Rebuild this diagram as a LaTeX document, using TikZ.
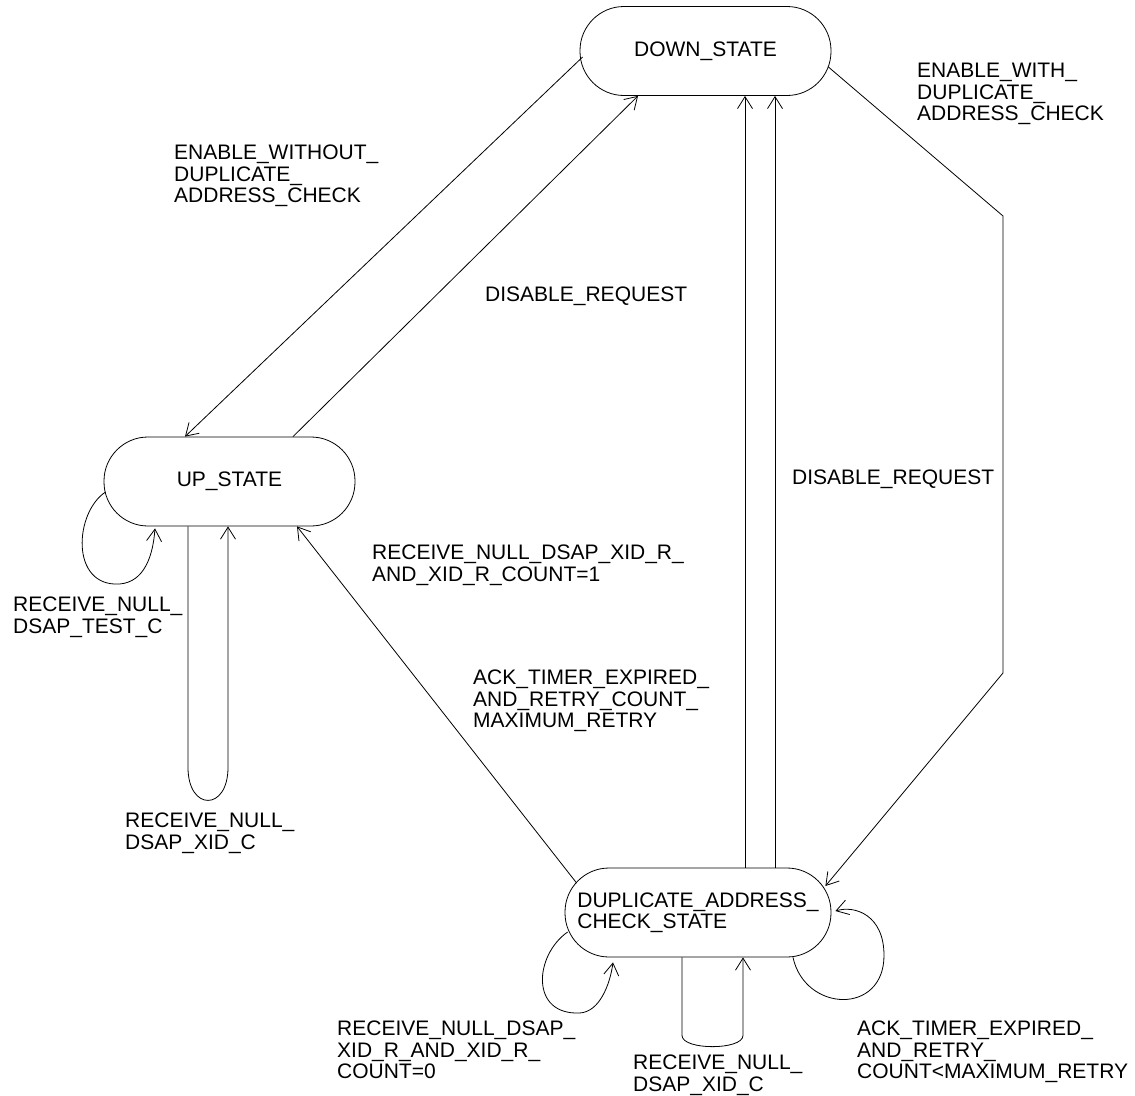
\documentclass[tikz,border=0pt]{standalone}
\usepackage{fontspec}
\setmainfont{Liberation Sans}
\usetikzlibrary{arrows.meta, calc}
\newcommand{\lblfont}{\fontsize{21}{21.5}\selectfont}

\begin{document}
\begin{tikzpicture}[
    x=1pt, y=-1pt,
    state/.style={rectangle, draw, line width=0.8pt, rounded corners=44pt, align=center, inner sep=0pt, minimum height=89pt, minimum width=251pt, font=\lblfont},
    arrow/.style={-{Straight Barb[length=12pt, width=15pt]}, line width=0.8pt},
    lbl/.style={anchor=north west, inner sep=0pt, align=left, font=\lblfont}
]
\useasboundingbox (0,0) rectangle (1135,1095);

\node[state] (down) at (705.5,51) {DOWN\_STATE};
\node[state] (up) at (229.5,481.5) {UP\_STATE};
\node[state, minimum width=266pt, align=left] (dup) at (698,912.5) {DUPLICATE\_ADDRESS\_\\CHECK\_STATE};

% labels
\node[lbl] (lenwo) at (174,145) {ENABLE\_WITHOUT\_\\DUPLICATE\_\\ADDRESS\_CHECK};
\node[lbl] (ldisup) at (485,287) {DISABLE\_REQUEST};
\node[lbl] (lenw) at (917,63) {ENABLE\_WITH\_\\DUPLICATE\_\\ADDRESS\_CHECK};
\node[lbl] (ldisdup) at (792,470) {DISABLE\_REQUEST};
\node[lbl] (lxidone) at (372,545) {RECEIVE\_NULL\_DSAP\_XID\_R\_\\AND\_XID\_R\_COUNT=1};
\node[lbl] (lackmax) at (473,670) {ACK\_TIMER\_EXPIRED\_\\AND\_RETRY\_COUNT\_\\MAXIMUM\_RETRY};
\node[lbl] (ltest) at (13,597) {RECEIVE\_NULL\_\\DSAP\_TEST\_C};
\node[lbl] (lxidup) at (125,813) {RECEIVE\_NULL\_\\DSAP\_XID\_C};
\node[lbl] (lxidzero) at (337,1021) {RECEIVE\_NULL\_DSAP\_\\XID\_R\_AND\_XID\_R\_\\COUNT=0};
\node[lbl] (lxiddup) at (633,1055) {RECEIVE\_NULL\_\\DSAP\_XID\_C};
\node[lbl] (lackless) at (857,1021) {ACK\_TIMER\_EXPIRED\_\\AND\_RETRY\_\\COUNT\textless MAXIMUM\_RETRY};

% transitions between states
\draw[arrow] ($(down.west)+(3,6)$) -- ($(up.north)+(-44.5,0)$);
\draw[arrow] ($(up.north)+(63.5,0)$) -- ($(down.south)+(-67.5,0)$);
\coordinate (d1) at ($(dup.north)+(47,0)$);
\coordinate (d2) at ($(dup.north)+(77,0)$);
\draw[arrow] (d1) -- (d1 |- down.south);
\draw[arrow] (d2) -- (d2 |- down.south);
\coordinate (bendtop) at (1003,216);
\coordinate (bendbot) at (1003,673);
\draw[arrow] ($(down.east)+(-3,16)$) -- (bendtop) -- (bendbot) -- ($(dup.east)+(-6,-26.5)$);
\draw[arrow] ($(dup.west)+(12,-29.5)$) -- ($(up.south)+(67.5,0)$);

% self loops
\draw[arrow] ($(up.west)+(2,10.5)$) .. controls +(-31,20) and +(-50,3) .. ++(14,92)
    .. controls +(25,-2) and +(-2,27) .. ($(up.south)+(-74.5,2)$);
\draw[arrow] ($(up.south)+(-41.5,0)$) -- ++(0,241) .. controls +(0,44) and +(0,44) .. ++(40,0)
    -- ($(up.south)+(-1.5,0)$);
\draw[arrow] ($(dup.west)+(3,19.5)$) .. controls +(-33,23) and +(-50,2) .. ++(12,81)
    .. controls +(20,-1) and +(-3,22) .. ($(dup.south)+(-85,5)$);
\draw[arrow] ($(dup.south)+(-16,0)$) -- ++(0,78) .. controls +(0,15) and +(0,15) .. ++(61,0)
    -- ($(dup.south)+(45,0)$);
\draw[arrow] ($(dup.south)+(95,0)$) .. controls +(12,55) and +(0,60) .. ++(91,-2)
    .. controls +(0,-40) and +(20,-6) .. ($(dup.east)+(4,-1.5)$);
\end{tikzpicture}
\end{document}
